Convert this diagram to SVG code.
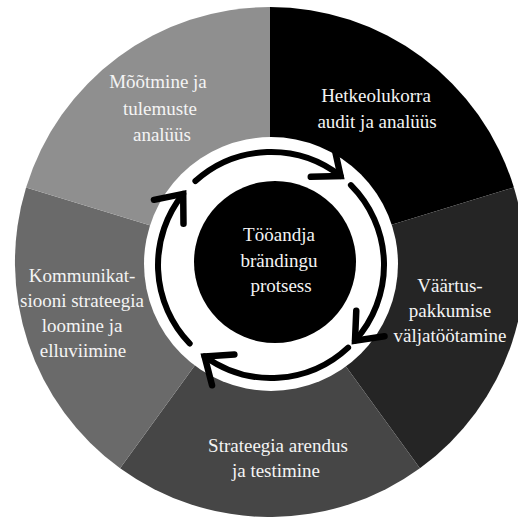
<svg xmlns="http://www.w3.org/2000/svg" width="518" height="517" viewBox="0 0 518 517">
<style>
.lbl{font-family:"Liberation Serif","Times New Roman",serif;font-size:19px;fill:#f4f4f4;text-anchor:middle}
.arc{fill:none;stroke:#000;stroke-width:6;stroke-linecap:round}
</style>
<defs>
<marker id="ah" markerUnits="userSpaceOnUse" markerWidth="70" markerHeight="70" viewBox="-35 -35 70 70" refX="0" refY="0" orient="auto" overflow="visible">
<path d="M-23,-19 L0,0 L-23,19" fill="none" stroke="#000" stroke-width="6.5" stroke-linecap="round" stroke-linejoin="miter"/>
</marker>
</defs>
<rect width="518" height="517" fill="#fff"/>
<g id="seg-hetkeolukorra">
<path d="M270,262 L270,7 A255,255 0 0 1 513.9,187.4 Z" fill="#000"/>
<text class="lbl" x="376" y="102">Hetkeolukorra</text>
<text class="lbl" x="377" y="128">audit ja analüüs</text>
</g>
<g id="seg-vaartus">
<path d="M270,262 L513.9,187.4 A255,255 0 0 1 419.9,468.3 Z" fill="#252525"/>
<text class="lbl" x="450" y="292">Väärtus-</text>
<text class="lbl" x="450" y="317">pakkumise</text>
<text class="lbl" x="450" y="342">väljatöötamine</text>
</g>
<g id="seg-strateegia">
<path d="M270,262 L419.9,468.3 A255,255 0 0 1 120.1,468.3 Z" fill="#464646"/>
<text class="lbl" x="278" y="452">Strateegia arendus</text>
<text class="lbl" x="276" y="477">ja testimine</text>
</g>
<g id="seg-kommunikatsioon">
<path d="M270,262 L120.1,468.3 A255,255 0 0 1 26.1,187.4 Z" fill="#6a6a6a"/>
<text class="lbl" x="82" y="282">Kommunikat-</text>
<text class="lbl" x="82" y="307">siooni strateegia</text>
<text class="lbl" x="82" y="332">loomine ja</text>
<text class="lbl" x="83" y="357">elluviimine</text>
</g>
<g id="seg-mootmine">
<path d="M270,262 L26.1,187.4 A255,255 0 0 1 270,7 Z" fill="#8f8f8f"/>
<text class="lbl" x="158" y="88">Mõõtmine ja</text>
<text class="lbl" x="160" y="115">tulemuste</text>
<text class="lbl" x="162" y="141">analüüs</text>
</g>
<circle cx="271" cy="264" r="127" fill="#fff"/>
<g id="center">
<circle cx="275" cy="262" r="81" fill="#000"/>
<text class="lbl" x="279" y="241">Tööandja</text>
<text class="lbl" x="279" y="266.5">brändingu</text>
<text class="lbl" x="281" y="292">protsess</text>
</g>
<g id="connectors">
<path class="arc" d="M195.4,181 A113,113 0 0 1 340.6,176" marker-end="url(#ah)"/>
<path class="arc" d="M350.9,185.1 A113,113 0 0 1 355,340.6" marker-end="url(#ah)"/>
<path class="arc" d="M348.1,347.6 A113,113 0 0 1 204.6,356.4" marker-end="url(#ah)"/>
<path class="arc" d="M189.7,343.5 A113,113 0 0 1 183.2,193.9" marker-end="url(#ah)"/>
</g>
</svg>
